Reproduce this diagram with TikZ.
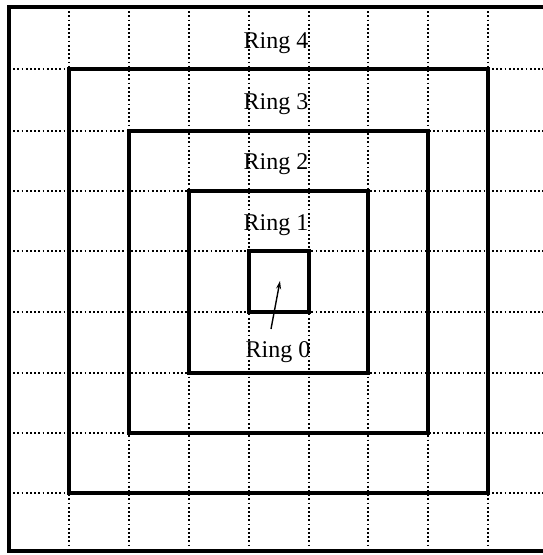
\documentclass[tikz,border=0pt]{standalone}
\usepackage{fontspec}
\setmainfont{Liberation Serif}
\usetikzlibrary{arrows.meta}
\begin{document}
\begin{tikzpicture}[x=1pt,y=-1pt,
  gridline/.style={line width=1.7pt,dash pattern=on 1.7pt off 2.5pt,black},
  ringbox/.style={line width=3.8pt,black},
  outerbox/.style={line width=3.2pt,black},
  ringlabel/.style={font=\fontsize{24}{28}\selectfont,inner sep=1pt,fill=none}]
\useasboundingbox (0,0) rectangle (543,555);
% grid
\foreach \x in {69,129,189,249,309,368,428,488}
  \draw[gridline] (\x,7) -- (\x,551);
\foreach \y in {69,131,191,251,312,373,433,493}
  \draw[gridline] (9,\y) -- (543,\y);
% outer border (right side cut off)
\draw[outerbox] (543,7) -- (9,7) -- (9,551) -- (543,551);
% rings
\draw[ringbox] (69,69) rectangle (488,493);
\draw[ringbox] (129,131) rectangle (428,433);
\draw[ringbox] (189,191) rectangle (368,373);
\draw[ringbox] (249,251) rectangle (309,312);
% labels
\node[ringlabel] (r4) at (276,43) {Ring 4};
\node[ringlabel] (r3) at (276,104) {Ring 3};
\node[ringlabel] (r2) at (276,164) {Ring 2};
\node[ringlabel] (r1) at (276,225) {Ring 1};
\node[ringlabel] (r0) at (278,352) {Ring 0};
\coordinate (tail) at (271,329);
\coordinate (tip) at (280,281);
\draw[line width=1.4pt,-{Stealth[length=8pt,width=5pt]}] (tail) -- (tip);
\end{tikzpicture}
\end{document}
